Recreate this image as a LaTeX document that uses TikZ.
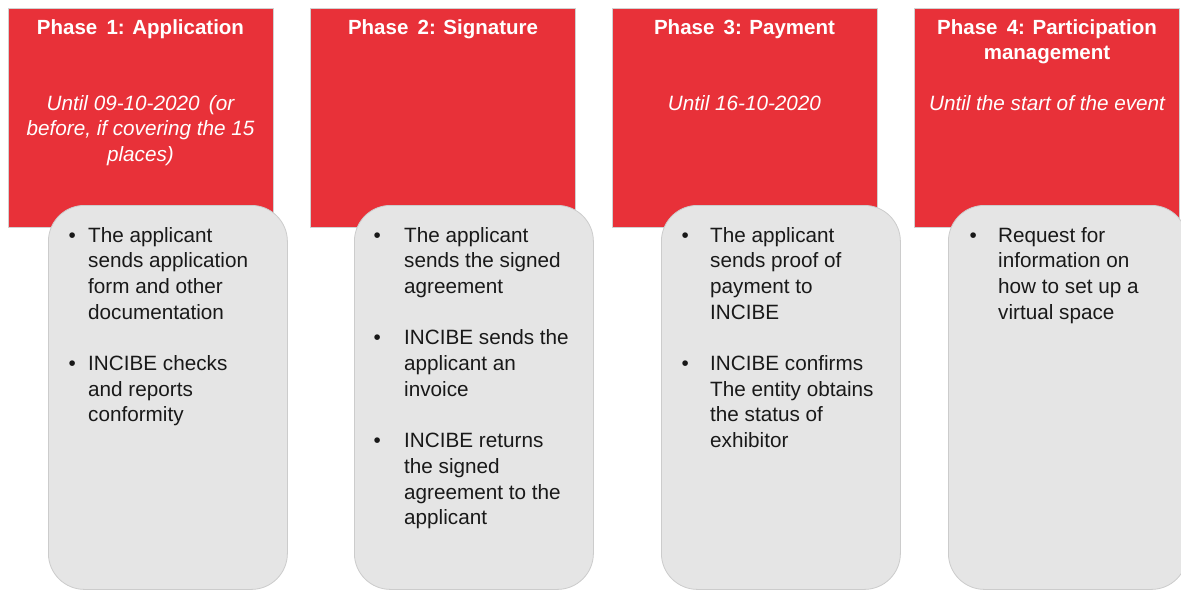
\documentclass[tikz,border=0pt]{standalone}
\usepackage{fontspec}
\setmainfont{Liberation Sans}
\definecolor{phred}{RGB}{232,49,57}
\definecolor{cardgray}{RGB}{229,229,229}
\newcommand\wsp{\hspace{0.45em}}
\tikzset{
  phasebox/.style={fill=phred, draw=black!18, line width=0.5pt, inner sep=0pt, anchor=north west, minimum width=265pt, minimum height=219pt},
  card/.style={fill=cardgray, draw=black!20, line width=0.8pt, rounded corners=36pt, inner sep=0pt, anchor=north west, minimum width=239pt, minimum height=384pt},
  head/.style={text=white, font=\fontsize{20.5}{25.7}\selectfont\bfseries, inner sep=0pt, anchor=base},
  sub/.style={text=white, font=\fontsize{20.7}{25.7}\selectfont\itshape, inner sep=0pt, anchor=base},
  body/.style={text=black!90, font=\fontsize{20.7}{25.7}\selectfont, inner sep=0pt, anchor=base west},
}
\begin{document}
\begin{tikzpicture}[x=1pt,y=-1pt]
\path[use as bounding box, clip] (0,0) rectangle (1181,590);
\fill[white] (0,0) rectangle (1181,590);
% red phase boxes
\node[phasebox] (r1) at (8,8) {};
\node[phasebox] (r2) at (310,8) {};
\node[phasebox] (r3) at (612,8) {};
\node[phasebox] (r4) at (914,8) {};
% headings
\node[head] (h1) at (140.5,34) {Phase\wsp 1: Application};
\node[head] (h2) at (443,34) {Phase\wsp 2: Signature};
\node[head] (h3) at (744.5,34) {Phase\wsp 3: Payment};
\node[head] (h4) at (1047,34) {\begin{tabular}[t]{@{}c@{}}Phase\wsp 4: Participation\\management\end{tabular}};
% subtitles
\node[sub] (s1) at (140.5,110) {\begin{tabular}[t]{@{}c@{}}Until 09-10-2020\wsp (or\\before, if covering the 15\\places)\end{tabular}};
\node[sub] (s3) at (744.5,110) {Until 16-10-2020};
\node[sub] (s4) at (1047,110) {Until the start of the event};
% grey cards
\node[card] (c1) at (48,205) {};
\node[card] (c2) at (354,205) {};
\node[card] (c3) at (661,205) {};
\node[card] (c4) at (948,205) {};
% card texts
\node[body] (t1) at (68.4,242) {\begin{tabular}[t]{@{}p{19.6pt}@{}l@{}}
\textbullet & The applicant\\
 & sends application\\
 & form and other\\
 & documentation\\
 & \\
\textbullet & INCIBE checks\\
 & and reports\\
 & conformity
\end{tabular}};
\node[body] (t2) at (373.4,242) {\begin{tabular}[t]{@{}p{30.6pt}@{}l@{}}
\textbullet & The applicant\\
 & sends the signed\\
 & agreement\\
 & \\
\textbullet & INCIBE sends the\\
 & applicant an\\
 & invoice\\
 & \\
\textbullet & INCIBE returns\\
 & the signed\\
 & agreement to the\\
 & applicant
\end{tabular}};
\node[body] (t3) at (681.4,242) {\begin{tabular}[t]{@{}p{28.6pt}@{}l@{}}
\textbullet & The applicant\\
 & sends proof of\\
 & payment to\\
 & INCIBE\\
 & \\
\textbullet & INCIBE confirms\\
 & The entity obtains\\
 & the status of\\
 & exhibitor
\end{tabular}};
\node[body] (t4) at (969.4,242) {\begin{tabular}[t]{@{}p{28.6pt}@{}l@{}}
\textbullet & Request for\\
 & information on\\
 & how to set up a\\
 & virtual space
\end{tabular}};
\end{tikzpicture}
\end{document}
